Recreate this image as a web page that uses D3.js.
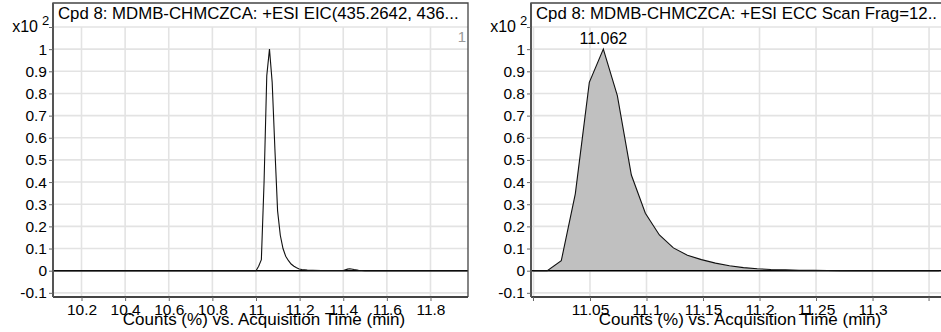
<!DOCTYPE html>
<html>
<head>
<meta charset="utf-8">
<script src="https://cdn.jsdelivr.net/npm/d3@7"></script>
<style>
  html, body { margin: 0; padding: 0; background: #fff; }
  svg { display: block; font-family: "Liberation Sans", Arial, sans-serif; }
</style>
</head>
<body>
<svg id="chart" width="941" height="332"></svg>
<script>
// EIC trace (left panel), time in min, counts in x10^2 %
const eicTimes = [10.07, 11.0, 11.0122, 11.0246, 11.037, 11.0494, 11.0618, 11.0742, 11.0866, 11.099,
  11.1114, 11.1238, 11.1362, 11.149, 11.161, 11.174, 11.186, 11.198, 11.21, 11.235, 11.26, 11.3,
  11.35, 11.40, 11.42, 11.43, 11.45, 11.47, 11.5, 11.97];
const eicCounts = [0, 0, 0.02, 0.05, 0.4, 0.88, 1.0, 0.85, 0.55, 0.27,
  0.16, 0.1, 0.065, 0.045, 0.03, 0.02, 0.013, 0.008, 0.005, 0.003, 0.002, 0.001,
  0.0005, 0.001, 0.007, 0.009, 0.005, 0.002, 0, 0];

// ECC scan trace (right panel)
const eccTimes = [10.9998, 11.0122, 11.0246, 11.037, 11.0494, 11.0618, 11.0742, 11.0866, 11.099,
  11.1114, 11.1238, 11.1362, 11.1486, 11.161, 11.1734, 11.1858, 11.198, 11.21, 11.223, 11.235,
  11.248, 11.26, 11.272, 11.285, 11.297, 11.31, 11.322, 11.334, 11.347, 11.359];
const eccCounts = [0, 0, 0.045, 0.347, 0.85, 1.0, 0.79, 0.432, 0.259,
  0.161, 0.103, 0.07, 0.05, 0.034, 0.022, 0.014, 0.009, 0.0055, 0.0035, 0.002,
  0.0012, 0.0006, 0.0003, 0, 0, 0, 0, 0, 0, 0];

const yTicks = [-0.1, 0, 0.1, 0.2, 0.3, 0.4, 0.5, 0.6, 0.7, 0.8, 0.9, 1];
const eicXTicks = [10.2, 10.4, 10.6, 10.8, 11, 11.2, 11.4, 11.6, 11.8];
const eccXTicks = [11.05, 11.1, 11.15, 11.2, 11.25, 11.3];
const eccMinorTicks = [11.0, 11.35];

const titles = [
  'Cpd 8: MDMB-CHMCZCA: +ESI EIC(435.2642, 436...',
  'Cpd 8: MDMB-CHMCZCA: +ESI ECC Scan Frag=12..'
];
const xLabel = 'Counts (%) vs. Acquisition Time (min)';
const peakLabel = '11.062';

const svg = d3.select('#chart');

// plot frame geometry shared by both panels
const frameTop = 3, plotTop = 27, plotBottom = 297, plotW = 415;
const y = d3.scaleLinear().domain([-0.1188, 1.1]).range([plotBottom, plotTop]);

function drawPanel(offset, opt) {
  const left = offset + 53, right = left + plotW;
  const g = svg.append('g');
  const x = d3.scaleLinear().domain(opt.xDomain).range([left, right]);
  const clipId = 'clip' + offset;

  g.append('clipPath').attr('id', clipId)
    .append('rect').attr('x', left).attr('y', plotTop).attr('width', plotW).attr('height', plotBottom - plotTop);

  // grid
  g.append('g').selectAll('line').data(yTicks.concat([1.1])).join('line')
    .attr('x1', left).attr('x2', right)
    .attr('y1', d => y(d)).attr('y2', d => y(d))
    .attr('stroke', '#e3e3e3').attr('stroke-width', 1.6);
  g.append('g').selectAll('line').data(opt.gridX).join('line')
    .attr('x1', d => x(d)).attr('x2', d => x(d))
    .attr('y1', plotTop).attr('y2', plotBottom)
    .attr('stroke', '#e3e3e3').attr('stroke-width', 1.6);

  // trace
  const pts = opt.times.map((t, i) => [t, opt.counts[i]]);
  const body = g.append('g').attr('clip-path', `url(#${clipId})`);
  if (opt.filled) {
    body.append('path').datum(pts)
      .attr('fill', '#c0c0c0')
      .attr('d', d3.area().x(d => x(d[0])).y0(y(0)).y1(d => y(d[1])));
  }
  body.append('line')
    .attr('x1', left).attr('x2', right).attr('y1', y(0)).attr('y2', y(0))
    .attr('stroke', '#000').attr('stroke-width', 1.4);
  body.append('path').datum(pts)
    .attr('fill', 'none').attr('stroke', '#111').attr('stroke-width', 1.1)
    .attr('d', d3.line().x(d => x(d[0])).y(d => y(d[1])));

  // frame
  g.append('path')
    .attr('d', `M${left},${plotBottom}V${frameTop}H${right}V${plotBottom}`)
    .attr('fill', 'none').attr('stroke', '#444').attr('stroke-width', 1.3);
  g.append('line').attr('x1', left).attr('x2', right).attr('y1', plotBottom).attr('y2', plotBottom)
    .attr('stroke', '#444').attr('stroke-width', 2);
  g.append('line').attr('x1', left).attr('x2', left).attr('y1', frameTop).attr('y2', plotBottom)
    .attr('stroke', '#555').attr('stroke-width', 2);

  // y axis
  const yAxis = d3.axisLeft(y).tickValues(yTicks.concat([1.1])).tickSize(4).tickPadding(2)
    .tickFormat(d => d === 1.1 ? '' : String(d));
  const ya = g.append('g').attr('transform', `translate(${left},0)`).call(yAxis);
  ya.select('.domain').remove();
  ya.selectAll('line').attr('stroke', '#666');
  ya.selectAll('text').attr('font-size', 15.5).attr('fill', '#000').attr('font-family', 'Liberation Sans, Arial, sans-serif');
  g.append('text').attr('x', left - 15).attr('y', 32).attr('text-anchor', 'end')
    .attr('font-size', 16).attr('fill', '#000').text('x10');
  g.append('text').attr('x', left - 11).attr('y', 25).attr('font-size', 13).attr('fill', '#000').text('2');

  // x axis
  const xAxis = d3.axisBottom(x).tickValues(opt.xTicks).tickSize(4).tickPadding(3)
    .tickFormat(d => String(d));
  const xa = g.append('g').attr('transform', `translate(0,${plotBottom})`).call(xAxis);
  xa.select('.domain').remove();
  xa.selectAll('line').attr('stroke', '#666');
  xa.selectAll('text').attr('font-size', 15.5).attr('fill', '#000').attr('font-family', 'Liberation Sans, Arial, sans-serif');
  if (opt.minorTicks) {
    g.append('g').selectAll('line').data(opt.minorTicks).join('line')
      .attr('x1', d => x(d)).attr('x2', d => x(d)).attr('y1', plotBottom).attr('y2', plotBottom + 4)
      .attr('stroke', '#666');
  }

  g.append('text').attr('x', opt.labelX).attr('y', 325).attr('text-anchor', 'middle')
    .attr('font-size', 17).attr('fill', '#000').text(xLabel);

  // title
  g.append('text').attr('x', left + 5).attr('y', 19).attr('font-size', 16.8).attr('fill', '#000')
    .text(opt.title);

  return x;
}

const xL = drawPanel(0, {
  xDomain: [10.0693, 11.972], times: eicTimes, counts: eicCounts, filled: false,
  gridX: eicXTicks, xTicks: eicXTicks, title: titles[0], labelX: 264
});
svg.append('text').attr('x', 466).attr('y', 42).attr('text-anchor', 'end')
  .attr('font-size', 15).attr('fill', '#999').text('1');

const xR = drawPanel(478, {
  xDomain: [10.9978, 11.365], times: eccTimes, counts: eccCounts, filled: true,
  gridX: [11.0].concat(eccXTicks, [11.35]), xTicks: eccXTicks, minorTicks: eccMinorTicks,
  title: titles[1], labelX: 740
});
const peakIdx = d3.maxIndex(eccCounts);
svg.append('text').attr('x', xR(eccTimes[peakIdx])).attr('y', y(eccCounts[peakIdx]) - 5)
  .attr('text-anchor', 'middle').attr('font-size', 16).attr('fill', '#000').text(peakLabel);
</script>
</body>
</html>
